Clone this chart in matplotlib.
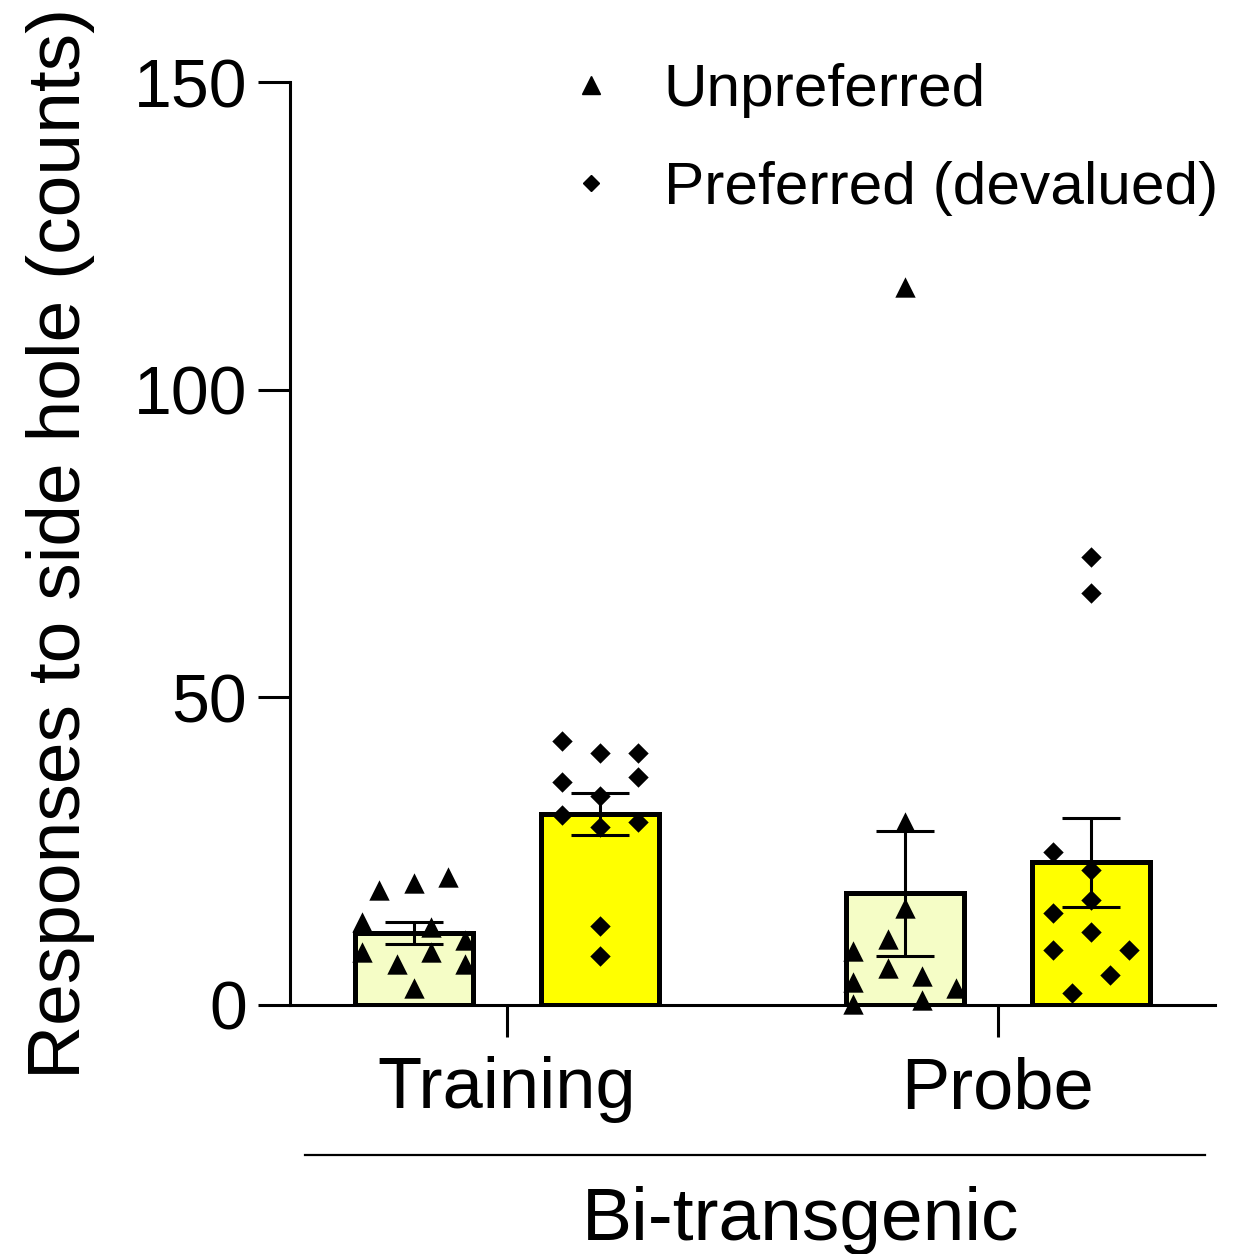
import numpy as np
import matplotlib.pyplot as plt
from matplotlib.lines import Line2D

# -------- DATA --------
GROUPS = ["Training", "Probe"]
SERIES = ["Unpreferred", "Preferred (devalued)"]

TRAIN_UNPREF = [18.7, 19.8, 20.8, 13.5, 12.7, 8.6, 8.6, 10.6, 6.7, 6.7, 2.8]
TRAIN_PREF = [42.9, 40.9, 40.9, 36.2, 37.0, 34.0, 30.9, 29.8, 29.0, 12.8, 7.9]
PROBE_UNPREF = [116.7, 29.8, 15.7, 10.8, 8.7, 6.0, 4.7, 3.8, 2.7, 0.8, 0.2]
PROBE_PREF = [72.8, 67.0, 24.9, 21.9, 17.1, 14.9, 11.9, 8.9, 8.9, 4.9, 1.9]

# -------- LAYOUT --------
# horizontal scatter of the points inside each bar (data units)
JIT_TRAIN_UNPREF = [-2, 0, 2, -3, 1, -3, 1, 3, -1, 3, 0]
JIT_TRAIN_PREF = [-2.2, 0, 2.2, -2.2, 2.2, 0, -2.2, 2.2, 0, 0, 0]
JIT_PROBE_UNPREF = [0, 0, 0, -1, -3, -1, 1, -3, 3, 1, -3]
JIT_PROBE_PREF = [0, 0, -2.2, 0, 0, -2.2, 0, -2.2, 2.2, 1.1, -1.1]
JIT_STEP = 0.035

BAR_W = 0.24
OFFSET = 0.19
LIGHT = "#F5FDC6"
YELLOW = "#FFFF00"
LW = 2.2

plt.rcParams["font.family"] = ["Liberation Sans", "DejaVu Sans"]

fig = plt.figure(figsize=(12.4, 12.54), dpi=100)
ax = fig.add_axes([290 / 1240, 1 - 1005 / 1254, 925 / 1240, 923 / 1254])

sets = [
    (0 - OFFSET, TRAIN_UNPREF, JIT_TRAIN_UNPREF, LIGHT, "^"),
    (0 + OFFSET, TRAIN_PREF, JIT_TRAIN_PREF, YELLOW, "D"),
    (1 - OFFSET, PROBE_UNPREF, JIT_PROBE_UNPREF, LIGHT, "^"),
    (1 + OFFSET, PROBE_PREF, JIT_PROBE_PREF, YELLOW, "D"),
]

for xc, vals, jit, col, mk in sets:
    vals = np.array(vals)
    mean = vals.mean()
    sem = vals.std(ddof=1) / np.sqrt(len(vals))
    ax.bar(xc, mean, BAR_W, color=col, edgecolor="black", linewidth=3.6, zorder=2)
    ax.errorbar(xc, mean, yerr=sem, color="black", elinewidth=LW, capsize=21,
                capthick=LW, zorder=3)
    xs = xc + np.array(jit) * JIT_STEP
    ms = 215 if mk == "^" else 108
    ax.scatter(xs, vals, marker=mk, s=ms, color="black", linewidths=0,
               zorder=4, clip_on=False)

ax.set_xlim(-0.442, 1.442)
ax.set_ylim(0, 150)
ax.set_yticks([0, 50, 100, 150])
ax.set_xticks([0, 1])
ax.set_xticklabels(GROUPS)
ax.tick_params(axis="both", length=23, width=LW, direction="out")
ax.tick_params(axis="y", labelsize=49, pad=8)
ax.tick_params(axis="x", labelsize=52, pad=14)
for side in ["top", "right"]:
    ax.spines[side].set_visible(False)
for side in ["left", "bottom"]:
    ax.spines[side].set_linewidth(LW)

ax.set_ylabel("Responses to side hole (counts)", fontsize=54, labelpad=28)

# group line + label under the x axis
ax.plot([0.016, 0.989], [-0.1625, -0.1625], color="black", linewidth=1.6,
        transform=ax.transAxes, clip_on=False)
ax.text(0.552, -0.2546, "Bi-transgenic", fontsize=54, ha="center", va="baseline",
        transform=ax.transAxes)

handles = [
    Line2D([], [], marker="^", color="black", linestyle="none", markersize=13),
    Line2D([], [], marker="D", color="black", linestyle="none", markersize=8),
]
ax.legend(handles, SERIES, loc="upper left", bbox_to_anchor=(561 / 1240, 1 - 63 / 1254),
          bbox_transform=fig.transFigure, frameon=False, fontsize=43.5,
          handlelength=1.0, handletextpad=0.7, labelspacing=0.72,
          borderpad=0, borderaxespad=0)

fig.savefig("out.png", dpi=100)
